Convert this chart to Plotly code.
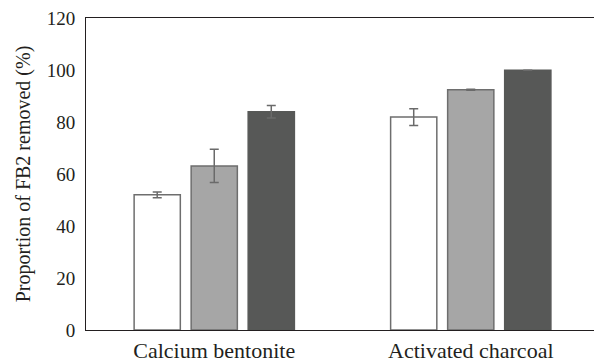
import plotly.graph_objects as go

categories = ["Calcium bentonite", "Activated charcoal"]
series_names = ["Treatment 1", "Treatment 2", "Treatment 3"]
values_1 = [52.0, 81.9]
errors_1 = [1.1, 3.2]
values_2 = [63.1, 92.4]
errors_2 = [6.4, 0.2]
values_3 = [83.9, 99.9]
errors_3 = [2.4, 0.0]
y_ticks = [0, 20, 40, 60, 80, 100, 120]

fills = ["#ffffff", "#a6a6a6", "#575857"]
outlines = ["#6e6e6e", "#6e6e6e", "#575857"]
err_color = "#6a6a6a"

fig = go.Figure()
for name, vals, errs, fc, lc in zip(series_names, [values_1, values_2, values_3],
                                    [errors_1, errors_2, errors_3], fills, outlines):
    fig.add_trace(go.Bar(
        x=categories, y=vals, name=name,
        marker=dict(color=fc, line=dict(color=lc, width=1.5)),
        error_y=dict(type="data", array=errs, visible=True, color=err_color,
                     thickness=1.5, width=4.5),
    ))

# page body has an 8px margin, so the figure is sized to end at the window edge
fig.update_layout(
    width=594, height=354,
    margin=dict(l=78, r=3, t=10, b=32, autoexpand=False),
    barmode="group", bargap=0.333, bargroupgap=0.19,
    plot_bgcolor="white", paper_bgcolor="white",
    showlegend=False,
    font=dict(family="Liberation Serif, DejaVu Serif, serif", color="#231f20", size=20),
)
fig.update_xaxes(
    showline=True, linecolor="#231f20", linewidth=1, mirror=True,
    ticks="", showgrid=False, tickfont=dict(size=22), automargin=False,
    ticklabelstandoff=1,
)
fig.update_yaxes(
    range=[0, 120], tickvals=y_ticks, showline=True, linecolor="#231f20",
    linewidth=1, mirror=True, ticks="", showgrid=False, zeroline=False,
    tickfont=dict(size=19), automargin=False, ticklabelstandoff=6,
    ticklabeloverflow="allow",
    title=dict(text="Proportion of FB2 removed (%)", font=dict(size=20), standoff=10),
)
fig.write_html("out.html")
